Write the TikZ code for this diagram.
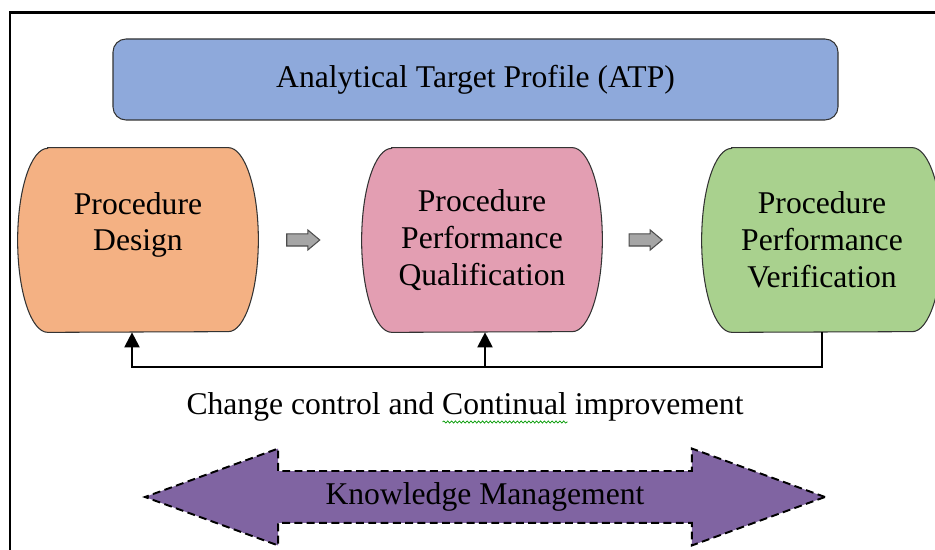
\documentclass[tikz,border=0pt]{standalone}
\usepackage{fontspec}
\setmainfont{Liberation Serif}
\usetikzlibrary{arrows.meta,shapes.arrows,backgrounds,calc,decorations.pathmorphing}

\definecolor{atpblue}{RGB}{142,169,219}
\definecolor{designorange}{RGB}{244,177,131}
\definecolor{ppqpink}{RGB}{227,158,178}
\definecolor{ppvgreen}{RGB}{169,209,142}
\definecolor{kmpurple}{RGB}{128,100,162}
\definecolor{stepgray}{RGB}{166,166,166}

\begin{document}
\begin{tikzpicture}[
    font=\fontsize{18}{21}\selectfont,
    stage/.style={minimum width=4.8cm, minimum height=3.68cm, align=center, inner sep=0pt},
    nextarrow/.style={single arrow, draw=black!70, fill=stepgray, line width=0.6pt,
        minimum height=0.66cm, inner xsep=0pt, inner ysep=0.11cm,
        single arrow head extend=0.08cm, single arrow tip angle=80},
    feedback/.style={line width=1.2pt, -{Triangle[width=3mm,length=3mm]}},
]
    \useasboundingbox (0,0) rectangle (18.7,11);

    % Frame
    \draw[line width=1.6pt] (0.2,0) -- (0.2,10.75) -- (18.7,10.75);

    % Target profile on top
    \node[draw=black!80, line width=0.6pt, fill=atpblue, rounded corners=0.26cm,
          minimum width=14.5cm, minimum height=1.62cm] (atp) at (9.51,9.41)
          {Analytical Target Profile (ATP)};

    % The three stages
    \node[stage] (design) at (2.76,6.2) {Procedure\\Design\\~};
    \node[stage] (ppq) at (9.64,6.2) {Procedure\\Performance\\Qualification};
    \node[stage] (ppv) at (16.44,6.2) {Procedure\\Performance\\Verification};

    % Stage outlines: flat top and bottom, bulging sides
    \begin{scope}[on background layer]
        \foreach \n/\c in {design/designorange, ppq/ppqpink, ppv/ppvgreen}
            \filldraw[fill=\c, draw=black!80, line width=0.6pt]
                ([xshift=0.6cm]\n.north west) -- ([xshift=-0.6cm]\n.north east)
                arc[start angle=90, end angle=-90, x radius=0.6cm, y radius=1.84cm]
                -- ([xshift=0.6cm]\n.south west)
                arc[start angle=270, end angle=90, x radius=0.6cm, y radius=1.84cm]
                -- cycle;
    \end{scope}

    % Block arrows between stages
    \node[nextarrow] (step1) at ($(design.east)!0.4!(ppq.west)$) {};
    \node[nextarrow] (step2) at ($(ppq.east)!0.4!(ppv.west)$) {};

    % Feedback loop
    \draw[feedback] (ppv.south) -- ++(0,-0.7) coordinate (loop) -| ([xshift=-0.12cm]design.south);
    \draw[feedback] ([xshift=0.06cm]ppq.south |- loop) -- ([xshift=0.06cm]ppq.south);

    \node[inner sep=0pt] (cc) at (9.3,2.86) {Change control and Continual improvement};
    \draw[green!60!black, line width=0.4pt, decorate,
          decoration={snake, amplitude=0.6pt, segment length=2.2pt}]
        ($(cc.west)+(5.13,-0.3)$) -- ++(2.5,0);

    % Knowledge management
    \node[double arrow, draw, dash pattern=on 4.5pt off 2.5pt, line width=1.1pt, fill=kmpurple,
          minimum height=13.6cm, text height=0.45cm, text depth=0.15cm, inner ysep=0.2cm,
          double arrow head extend=0.45cm, double arrow tip angle=40] (km) at (9.7,1.06)
          {Knowledge Management};
\end{tikzpicture}
\end{document}
